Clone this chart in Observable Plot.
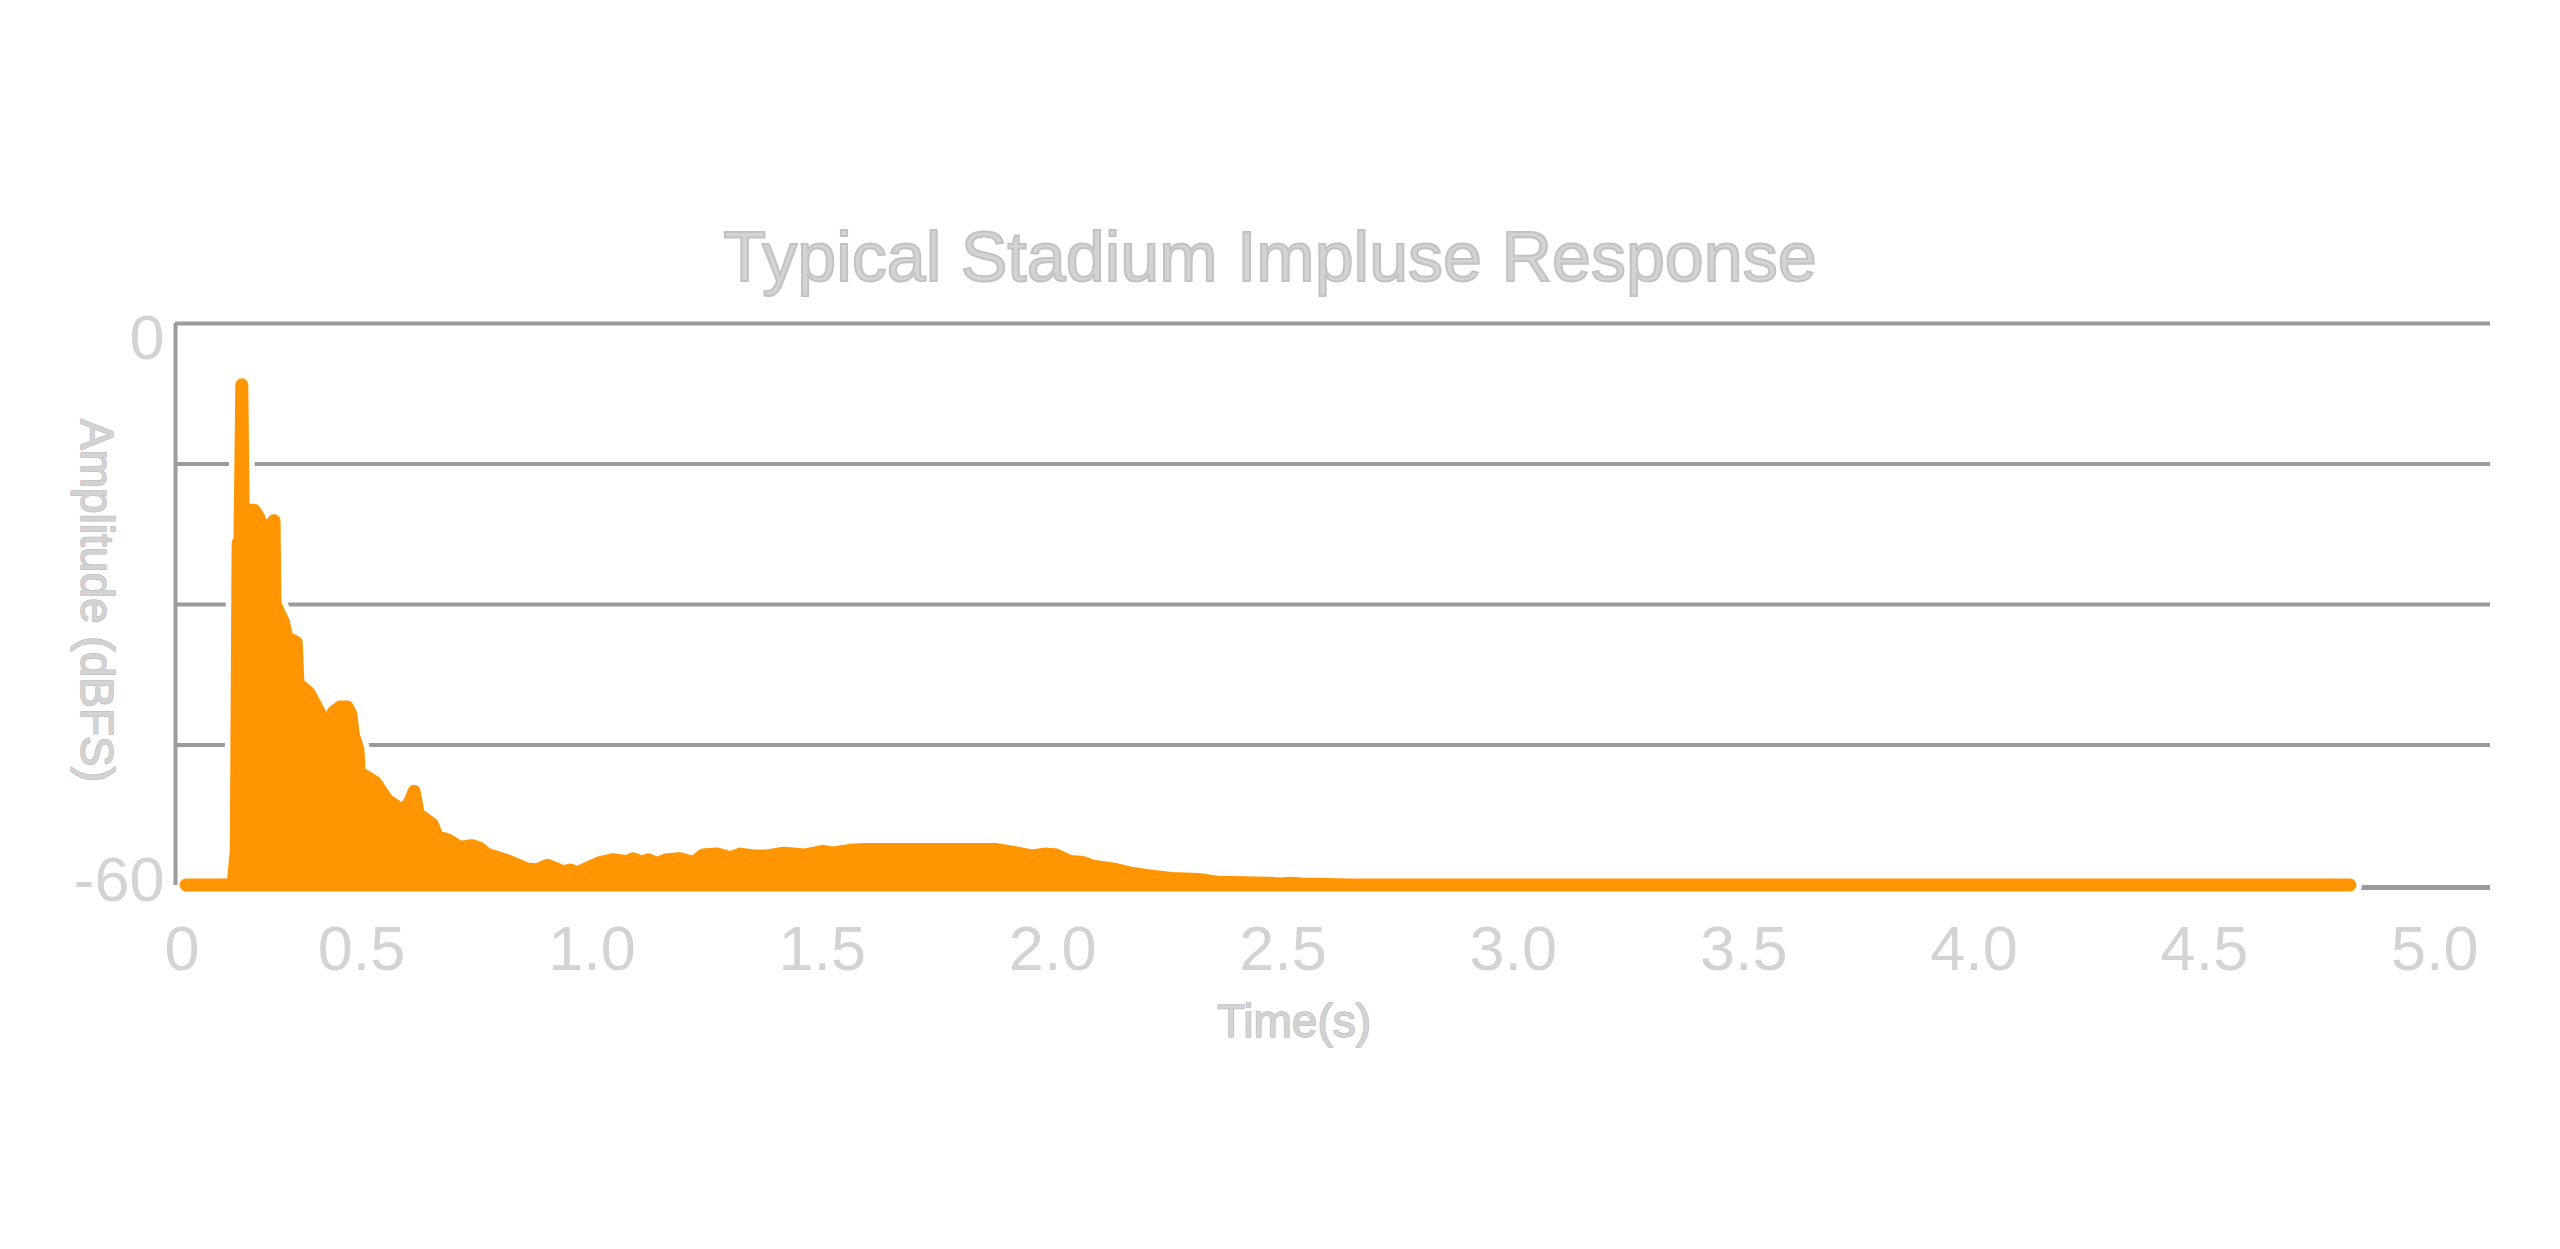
<!DOCTYPE html>
<html>
<head>
<meta charset="utf-8">
<script src="https://cdn.jsdelivr.net/npm/d3@7"></script>
<script src="https://cdn.jsdelivr.net/npm/@observablehq/plot@0.6"></script>
<style>
  html, body { margin: 0; padding: 0; background: #ffffff; overflow: hidden; }
  #title {
    width: 2540px; height: 300px; box-sizing: border-box; padding-top: 222px;
    text-align: center; font-family: "Liberation Sans", Arial, sans-serif;
    font-size: 70px; line-height: 70px; color: #d3d3d3;
    -webkit-text-stroke: 2px #c2c2c2;
  }
</style>
</head>
<body>
<div id="title">Typical Stadium Impluse Response</div>
<div id="chart"></div>
<script>
// Time (s)
const timeS = [0.120, 0.222, 0.229, 0.233, 0.237, 0.241, 0.244, 0.268, 0.276, 0.292,
  0.302, 0.311, 0.313, 0.331, 0.339, 0.359, 0.363, 0.387, 0.402, 0.418,
  0.431, 0.439, 0.454, 0.470, 0.478, 0.483, 0.493, 0.496, 0.530, 0.556,
  0.591, 0.606, 0.615, 0.624, 0.654, 0.665, 0.689, 0.715, 0.741, 0.758,
  0.773, 0.817, 0.860, 0.882, 0.904, 0.925, 0.938, 0.954, 0.969, 0.991,
  1.019, 1.047, 1.077, 1.090, 1.112, 1.123, 1.142, 1.164, 1.192, 1.221,
  1.242, 1.273, 1.301, 1.323, 1.351, 1.381, 1.418, 1.462, 1.503, 1.522,
  1.561, 1.594, 1.718, 1.876, 1.926, 1.954, 1.985, 2.009, 2.039, 2.067,
  2.089, 2.134, 2.167, 2.208, 2.258, 2.317, 2.358, 2.473, 2.495, 2.517,
  2.540, 2.647, 4.817];
// Amplitude (dBFS)
const amplitudeDb = [-60, -60, -56.3, -23.5, -23.5, -6.6, -20.0, -20.0, -20.6, -22.4,
  -21.7, -21.1, -30.0, -31.9, -33.6, -34.1, -38.5, -39.5, -40.9, -42.4,
  -43.1, -41.6, -41.0, -41.0, -41.8, -44.0, -45.5, -48.0, -49.0, -50.9,
  -52.1, -51.1, -50.0, -52.4, -53.5, -54.8, -55.2, -56.0, -55.8, -56.1,
  -56.7, -57.4, -58.3, -58.4, -57.9, -58.3, -58.6, -58.4, -58.7, -58.2,
  -57.6, -57.3, -57.5, -57.2, -57.6, -57.3, -57.7, -57.3, -57.2, -57.6,
  -56.8, -56.7, -57.1, -56.7, -56.9, -56.9, -56.6, -56.8, -56.4, -56.6,
  -56.3, -56.2, -56.2, -56.2, -56.6, -56.9, -56.7, -56.8, -57.5, -57.6,
  -58.0, -58.3, -58.7, -59.0, -59.3, -59.4, -59.7, -59.8, -59.9, -59.8,
  -59.9, -60.0, -60.0];

const xDomain = [0.096, 5.121];
const yDomain = [-60, 0];
const xTickValues = [0.11, 0.5, 1.0, 1.5, 2.0, 2.5, 3.0, 3.5, 4.0, 4.5, 5.0];
const xTickLabels = ["0", "0.5", "1.0", "1.5", "2.0", "2.5", "3.0", "3.5", "4.0", "4.5", "5.0"];
const yTickTop = [0];
const yTickTopLabels = ["0"];
const yTickBottom = [-60];
const yTickBottomLabels = ["-60"];
const gridDb = [-15, -30, -45];
const xLabel = ["Time(s)"];
const yLabel = ["Amplitude (dBFS)"];

const data = timeS.map((t, i) => ({t, db: amplitudeDb[i]}));

const ORANGE = "#ff9500";
const GRID = "#9b9b9b";
const TEXT = "#d3d3d3";
const TEXT_EDGE = "#c0c0c0";

const chart = Plot.plot({
  width: 2560,
  height: 949,
  marginTop: 23,
  marginBottom: 364,
  marginLeft: 175,
  marginRight: 70,
  style: {background: "#ffffff", fontFamily: "'Liberation Sans', Arial, sans-serif", overflow: "visible"},
  x: {domain: xDomain, axis: null},
  y: {domain: yDomain, axis: null},
  marks: [
    Plot.ruleY(gridDb, {stroke: GRID, strokeWidth: 4}),
    Plot.ruleY([yDomain[1]], {stroke: GRID, strokeWidth: 4}),
    Plot.ruleY([yDomain[0]], {stroke: GRID, strokeWidth: 5, dy: 2}),
    Plot.areaY(data, {x: "t", y1: yDomain[0], y2: "db", fill: "#ffffff", stroke: "#ffffff", strokeWidth: 24, strokeLinejoin: "round"}),
    Plot.ruleX([xDomain[0]], {stroke: GRID, strokeWidth: 4}),
    Plot.areaY(data, {x: "t", y1: yDomain[0], y2: "db", fill: ORANGE, stroke: ORANGE, strokeWidth: 13, strokeLinejoin: "round"}),
    Plot.axisX(xTickValues, {
      tickSize: 0, tickPadding: 40, fontSize: 63, fill: TEXT, stroke: TEXT_EDGE, strokeWidth: 2,
      tickFormat: d => xTickLabels[xTickValues.indexOf(d)], label: null
    }),
    Plot.axisY(yTickTop, {
      tickSize: 0, tickPadding: 11, dy: 15, fontSize: 63, fill: TEXT, stroke: TEXT_EDGE, strokeWidth: 2,
      tickFormat: d => yTickTopLabels[yTickTop.indexOf(d)], label: null
    }),
    Plot.axisY(yTickBottom, {
      tickSize: 0, tickPadding: 11, dy: -5, fontSize: 63, fill: TEXT, stroke: TEXT_EDGE, strokeWidth: 2,
      tickFormat: d => yTickBottomLabels[yTickBottom.indexOf(d)], label: null
    }),
    Plot.text(xLabel, {frameAnchor: "bottom", textAnchor: "middle", lineAnchor: "middle", dx: -39, dy: 137, fontSize: 46, fill: TEXT, stroke: TEXT_EDGE, strokeWidth: 1.5}),
    Plot.text(yLabel, {frameAnchor: "left", textAnchor: "middle", lineAnchor: "middle", rotate: 90, dx: -80, dy: -4, fontSize: 46, fill: TEXT, stroke: TEXT_EDGE, strokeWidth: 1.5})
  ]
});
document.getElementById("chart").appendChild(chart);
</script>
</body>
</html>
